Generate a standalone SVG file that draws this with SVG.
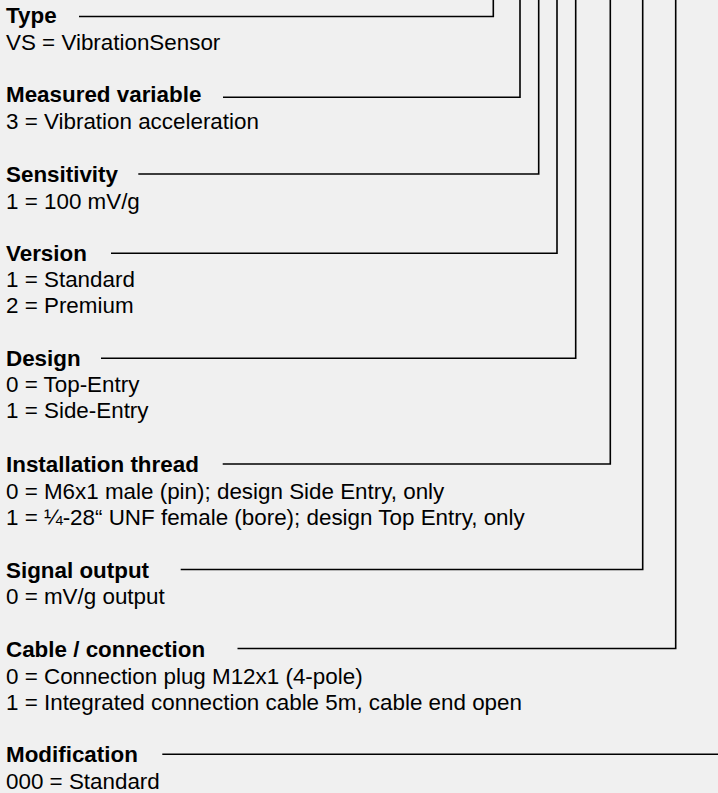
<svg xmlns="http://www.w3.org/2000/svg" width="718" height="793" viewBox="0 0 718 793">
<style>
.t{font-family:"Liberation Sans",Arial,sans-serif;font-size:22.4px;fill:#000}
.h{font-weight:bold}
.c{fill:none;stroke:#000;stroke-width:1.6}
</style>
<rect x="0" y="0" width="718" height="793" fill="#f0f0f0"/>
<g id="connectors">
<path class="c" d="M79 16.5H493.3V0"/>
<path class="c" d="M223 97.2H520V0"/>
<path class="c" d="M138.3 174H538.7V0"/>
<path class="c" d="M111 253.3H557V0"/>
<path class="c" d="M101 358.3H575.7V0"/>
<path class="c" d="M222.7 464H610.3V0"/>
<path class="c" d="M180.7 569.5H642.7V0"/>
<path class="c" d="M237.5 648.5H675.7V0"/>
<path class="c" d="M162.3 754.3H718"/>
</g>
<g id="type">
<text class="t h" x="6" y="23">Type</text>
<text class="t" x="6" y="49.5">VS = VibrationSensor</text>
</g>
<g id="measured-variable">
<text class="t h" x="6" y="102">Measured variable</text>
<text class="t" x="6" y="128.5">3 = Vibration acceleration</text>
</g>
<g id="sensitivity">
<text class="t h" x="6" y="182">Sensitivity</text>
<text class="t" x="6" y="208.5">1 = 100 mV/g</text>
</g>
<g id="version">
<text class="t h" x="6" y="261">Version</text>
<text class="t" x="6" y="287">1 = Standard</text>
<text class="t" x="6" y="313">2 = Premium</text>
</g>
<g id="design">
<text class="t h" x="6" y="365.5">Design</text>
<text class="t" x="6" y="392">0 = Top-Entry</text>
<text class="t" x="6" y="418">1 = Side-Entry</text>
</g>
<g id="installation-thread">
<text class="t h" x="6" y="472">Installation thread</text>
<text class="t" x="6" y="498.5">0 = M6x1 male (pin); design Side Entry, only</text>
<text class="t" x="6" y="525">1 = ¼-28“ UNF female (bore); design Top Entry, only</text>
</g>
<g id="signal-output">
<text class="t h" x="6" y="578">Signal output</text>
<text class="t" x="6" y="604">0 = mV/g output</text>
</g>
<g id="cable-connection">
<text class="t h" x="6" y="657">Cable / connection</text>
<text class="t" x="6" y="683.5">0 = Connection plug M12x1 (4-pole)</text>
<text class="t" x="6" y="710">1 = Integrated connection cable 5m, cable end open</text>
</g>
<g id="modification">
<text class="t h" x="6" y="762">Modification</text>
<text class="t" x="6" y="788.5">000 = Standard</text>
</g>
</svg>
